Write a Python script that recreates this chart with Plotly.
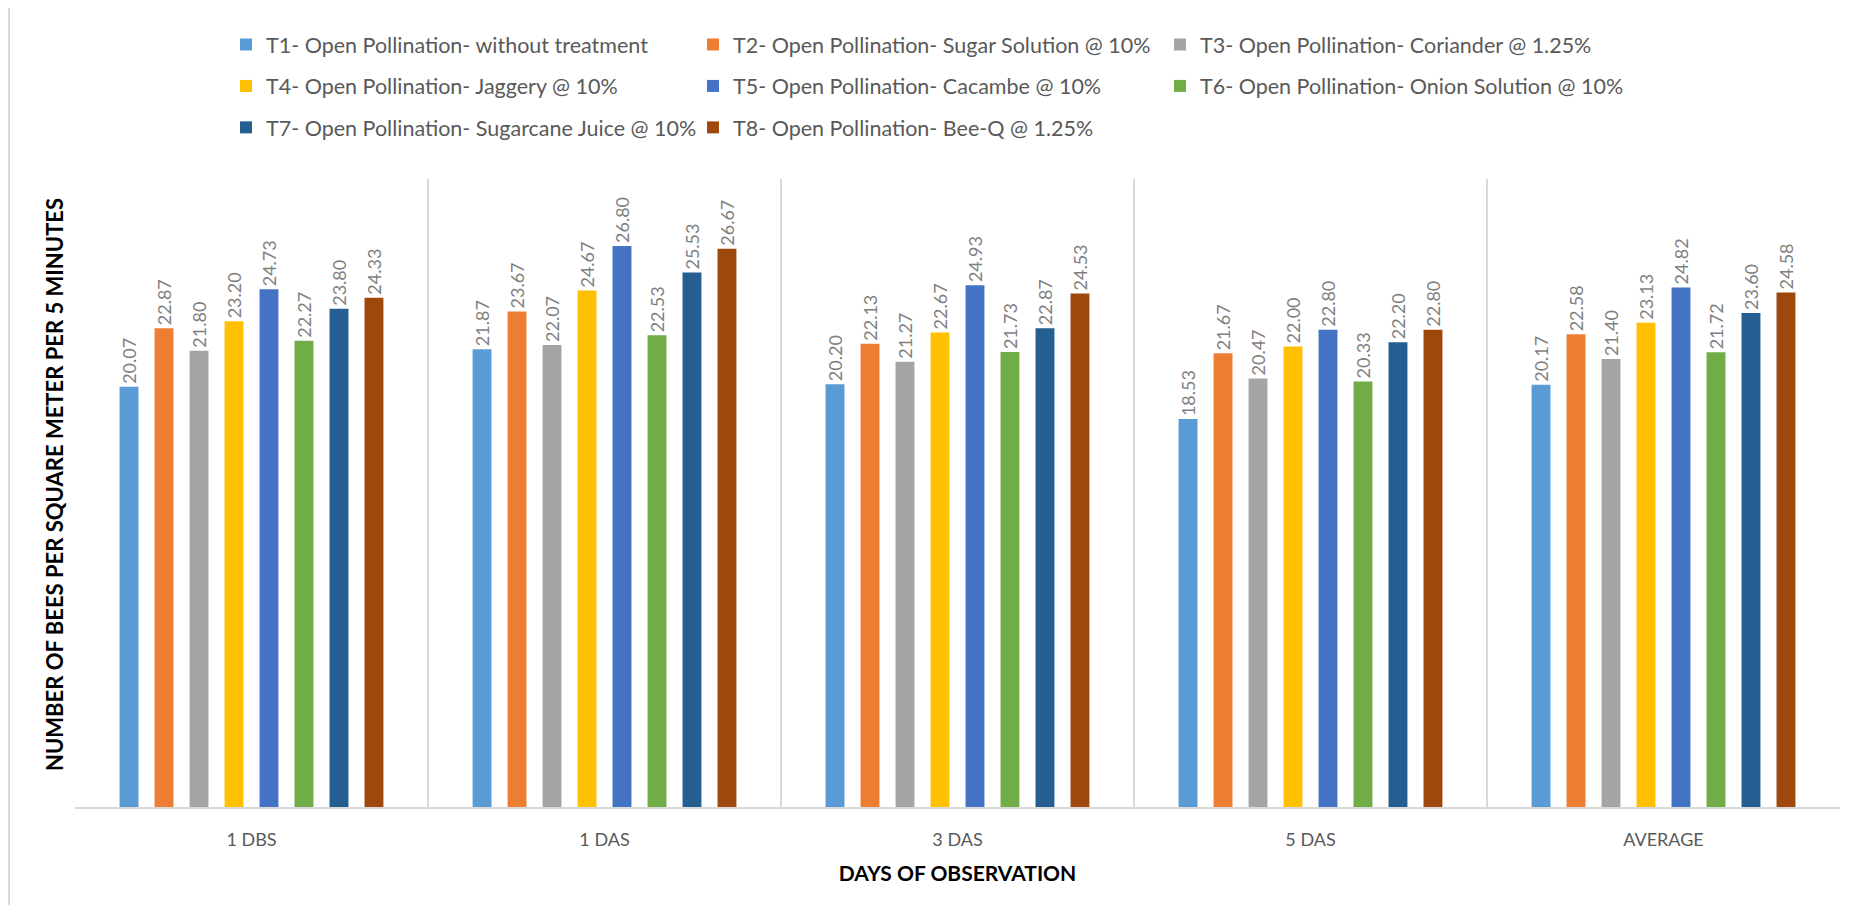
import plotly.graph_objects as go

categories = ["1 DBS", "1 DAS", "3 DAS", "5 DAS", "AVERAGE"]
treatments = [
    "T1- Open Pollination- without treatment",
    "T2- Open Pollination- Sugar Solution @ 10%",
    "T3- Open Pollination- Coriander @ 1.25%",
    "T4- Open Pollination- Jaggery @ 10%",
    "T5- Open Pollination- Cacambe @ 10%",
    "T6- Open Pollination- Onion Solution @ 10%",
    "T7- Open Pollination- Sugarcane Juice @ 10%",
    "T8- Open Pollination- Bee-Q @ 1.25%",
]
t1 = [20.07, 21.87, 20.20, 18.53, 20.17]
t2 = [22.87, 23.67, 22.13, 21.67, 22.58]
t3 = [21.80, 22.07, 21.27, 20.47, 21.40]
t4 = [23.20, 24.67, 22.67, 22.00, 23.13]
t5 = [24.73, 26.80, 24.93, 22.80, 24.82]
t6 = [22.27, 22.53, 21.73, 20.33, 21.72]
t7 = [23.80, 25.53, 22.87, 22.20, 23.60]
t8 = [24.33, 26.67, 24.53, 22.80, 24.58]
series = [t1, t2, t3, t4, t5, t6, t7, t8]
colors = ["#5B9BD5", "#ED7D31", "#A5A5A5", "#FFC000", "#4472C4", "#70AD47", "#255E91", "#9E480E"]
legend_ids = ["legend", "legend2", "legend3", "legend", "legend2", "legend3", "legend", "legend2"]

FONT = "Lato"
OFF = 8  # page body margin
W, H = 1868 - 2 * OFF, 913 - 2 * OFF

def fx(px):  # page px -> figure px
    return px - OFF

L, R, T, B = fx(75), fx(1840), fx(179), fx(807)

fig = go.Figure()
for i, (name, vals) in enumerate(zip(treatments, series)):
    fig.add_trace(go.Bar(
        x=categories, y=vals, name=name,
        marker=dict(color=colors[i], line=dict(width=0)),
        text=[f"{v:.2f}" for v in vals],
        textposition="outside", textangle=-90, constraintext="none",
        textfont=dict(family=FONT, size=18, color="#7F7F7F"),
        cliponaxis=False,
        legend=legend_ids[i],
        legendgroup=name,
    ))

def lg(px, py):
    return dict(
        x=fx(px) / W, y=1 - fx(py) / H, xref="container", yref="container",
        xanchor="left", yanchor="top", orientation="v",
        font=dict(family=FONT, size=21.5, color="#595959"),
        tracegroupgap=10.5, bgcolor="rgba(0,0,0,0)",
        itemclick=False, itemdoubleclick=False,
    )

fig.update_layout(
    width=W, height=H,
    margin=dict(l=L, r=W - R, t=T, b=H - B, autoexpand=False),
    paper_bgcolor="white", plot_bgcolor="white",
    barmode="group", bargap=0.207, bargroupgap=0.46,
    font=dict(family=FONT, color="#595959"),
    legend=lg(226, 24),
    legend2=lg(693, 24),
    legend3=lg(1160, 24),
    xaxis=dict(
        tickson="boundaries", showgrid=True, gridcolor="#D9D9D9", gridwidth=1.5,
        showline=True, linecolor="#D9D9D9", linewidth=2,
        ticks="", ticklabelstandoff=15,
        tickfont=dict(family=FONT, size=18, color="#595959"),
        title=dict(text="<b>DAYS OF OBSERVATION</b>", standoff=18,
                   font=dict(family=FONT, size=21, color="black")),
        automargin=False,
    ),
    yaxis=dict(
        range=[0, 30], showgrid=False, showticklabels=False, zeroline=False,
        showline=False, ticks="", automargin=False,
    ),
    annotations=[
        dict(text="<b>NUMBER OF BEES PER SQUARE METER PER 5 MINUTES</b>",
             textangle=-90, xref="paper", yref="paper",
             x=(fx(54) - L) / (R - L), y=0.5 + 8 / (B - T),
             xanchor="center", yanchor="middle", showarrow=False,
             font=dict(family=FONT, size=22, color="black")),
    ],
    shapes=[
        dict(type="line", xref="paper", yref="paper",
             x0=(fx(9) - L) / (R - L), x1=(fx(9) - L) / (R - L),
             y0=(B - fx(6)) / (B - T), y1=(B - H - 20) / (B - T),
             line=dict(color="#D9D9D9", width=2)),
        dict(type="line", xref="paper", yref="paper",
             x0=(fx(9) - L) / (R - L), x1=(W + 20 - L) / (R - L),
             y0=(B - fx(6)) / (B - T), y1=(B - fx(6)) / (B - T),
             line=dict(color="#D9D9D9", width=2)),
    ],
)

fig.write_html("out.html")
